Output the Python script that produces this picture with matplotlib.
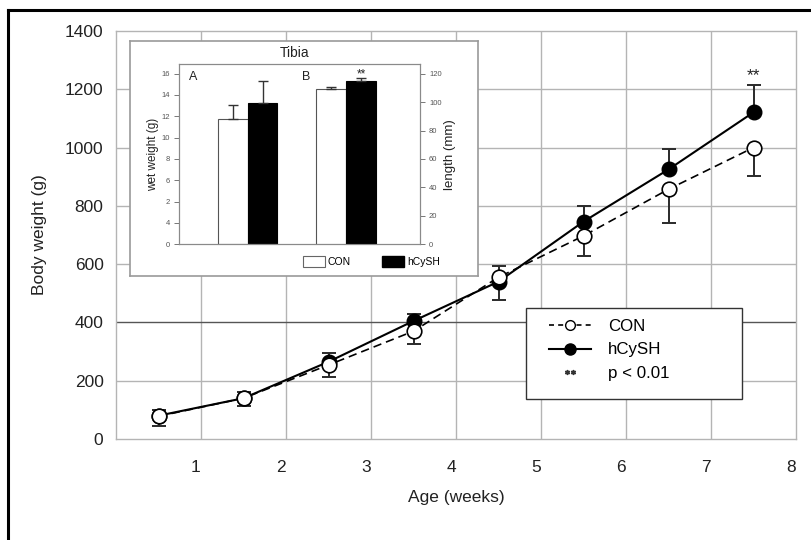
import matplotlib
matplotlib.use("Agg")
import matplotlib.pyplot as plt
from matplotlib.lines import Line2D
from matplotlib.patches import Patch, Rectangle
import matplotlib.transforms as mtransforms

plt.rcParams['font.family'] = ['Liberation Sans', 'DejaVu Sans']

# ---------------- data ----------------
weeks = [0.5, 1.5, 2.5, 3.5, 4.5, 5.5, 6.5, 7.5]
con = [78, 140, 254, 370, 555, 697, 857, 1000]
con_err_lo = [33, 27, 40, 44, 0, 68, 117, 97]
con_err_hi = [0, 0, 0, 0, 40, 0, 0, 0]
hcysh = [80, 140, 265, 405, 540, 746, 925, 1121]
hcysh_err_hi = [20, 20, 31, 23, 0, 55, 69, 94]
hcysh_err_lo = [0, 0, 0, 0, 63, 0, 0, 0]
x_ticks = [1, 2, 3, 4, 5, 6, 7, 8]
y_ticks = [0, 200, 400, 600, 800, 1000, 1200, 1400]

# inset (tibia)
tibia_groups = ['A', 'B']
tibia_con = [11.76, 109.0]        # wet weight (g), length (mm)
tibia_con_err = [1.29, 1.8]
tibia_hcysh = [13.27, 114.8]
tibia_hcysh_err = [2.03, 2.4]
left_tick_vals = [0, 2, 4, 6, 8, 10, 12, 14, 16]
left_tick_labels = ['0', '4', '2', '6', '8', '10', '12', '14', '16']
right_ticks = [0, 20, 40, 60, 80, 100, 120]

W, H = 811, 540
fig = plt.figure(figsize=(W / 100, H / 100), dpi=100)

def fx(px):
    return px / W

def fy(py):
    return 1 - py / H

# ---------------- main axes ----------------
ax = fig.add_axes([fx(116), fy(439), fx(796) - fx(116), fy(31) - fy(439)])
ax.set_xlim(0, 8)
ax.set_ylim(0, 1400)
grid_c = '#b4b4b4'
for s in ax.spines.values():
    s.set_color(grid_c)
    s.set_linewidth(1.0)
for xv in x_ticks[:-1]:
    ax.axvline(xv, color=grid_c, lw=1.0, zorder=0)
for yv in y_ticks[1:-1]:
    ax.axhline(yv, color='#555555' if yv == 400 else grid_c, lw=1.0, zorder=0)

ax.set_xticks(x_ticks)
ax.set_xticklabels([str(v) for v in x_ticks])
ax.set_yticks(y_ticks)
ax.set_yticklabels([str(v) for v in y_ticks])
ax.tick_params(axis='x', length=0, pad=15, labelsize=12.5, colors='#222222')
ax.tick_params(axis='y', length=0, pad=9, labelsize=12.5, colors='#222222')
off = mtransforms.ScaledTranslation(-5 / 100, 0, fig.dpi_scale_trans)
for lab in ax.get_xticklabels():
    lab.set_transform(lab.get_transform() + off)
ax.set_xlabel('Age (weeks)', fontsize=12.5, labelpad=11, color='#222222')
ax.set_ylabel('Body weight (g)', fontsize=12.5, labelpad=13, color='#222222')

ax.errorbar(weeks, hcysh, yerr=[hcysh_err_lo, hcysh_err_hi], fmt='none',
            ecolor='#2a2a2a', elinewidth=1.4, capsize=5, capthick=1.4, zorder=3)
ax.errorbar(weeks, con, yerr=[con_err_lo, con_err_hi], fmt='none',
            ecolor='#2a2a2a', elinewidth=1.4, capsize=5, capthick=1.4, zorder=3)
ax.plot(weeks, hcysh, '-', color='black', lw=1.5, marker='o', ms=10.5,
        mfc='black', mec='black', zorder=4)
ax.plot(weeks, con, '--', color='black', lw=1.2, dashes=(5, 3), marker='o', ms=10.5,
        mfc='white', mec='black', mew=1.2, zorder=5)
ax.text(weeks[-1], hcysh[-1] + hcysh_err_hi[-1] + 33, '**', ha='center', va='center',
        fontsize=12.5, color='#222222')

# legend: box drawn as a rectangle, entries as a frameless legend
fig.add_artist(Rectangle((fx(526), fy(399)), fx(742) - fx(526), fy(308) - fy(399),
                         transform=fig.transFigure, facecolor='white',
                         edgecolor='#333333', lw=1.0, zorder=9))
handles = [
    Line2D([], [], color='black', ls='--', dashes=(3, 2.5), lw=1.2, marker='o', ms=7,
           mfc='white', mec='black'),
    Line2D([], [], color='black', ls='-', lw=1.5, marker='o', ms=8, mfc='black', mec='black'),
    Line2D([], [], ls='none', marker='$**$', ms=7, color='#333333'),
]
leg = fig.legend(handles, ['CON', 'hCySH', 'p < 0.01'],
                 loc='upper left', bbox_to_anchor=(fx(549), fy(319)),
                 bbox_transform=fig.transFigure, borderaxespad=0, borderpad=0,
                 fontsize=12.2, handlelength=2.5, handletextpad=1.0,
                 labelspacing=0.5, frameon=False)
leg.set_zorder(10)

# ---------------- inset ----------------
frame = fig.add_axes([fx(130), fy(275.5), fx(478) - fx(130), fy(40.6) - fy(275.5)])
frame.set_xticks([])
frame.set_yticks([])
for s in frame.spines.values():
    s.set_color('#9a9a9a')
    s.set_linewidth(1.2)
frame.set_facecolor('white')
frame.set_zorder(20)

ia = fig.add_axes([fx(179), fy(244.3), fx(420) - fx(179), fy(64) - fy(244.3)])
ia.set_zorder(21)
ia.set_xlim(0, 8.1)
ia.set_ylim(0, 16.9)
ia2 = ia.twinx()
ia2.set_zorder(22)
ia2.set_ylim(0, 16.9 * 7.5)
ia2.patch.set_visible(False)

centers = [2.31, 5.62]
bw = 1.0
# group A on left axis
ia.bar(centers[0] - bw / 2, tibia_con[0], bw, color='white', edgecolor='#555555', lw=0.8)
ia.bar(centers[0] + bw / 2, tibia_hcysh[0], bw, color='black', edgecolor='black', lw=0.8)
ia.errorbar([centers[0] - bw / 2], [tibia_con[0]], yerr=[[0], [tibia_con_err[0]]], fmt='none',
            ecolor='#333333', elinewidth=1.0, capsize=3.5, capthick=1.0)
ia.errorbar([centers[0] + bw / 2], [tibia_hcysh[0]], yerr=[[0], [tibia_hcysh_err[0]]], fmt='none',
            ecolor='#333333', elinewidth=1.0, capsize=3.5, capthick=1.0)
# group B on right axis
ia2.bar(centers[1] - bw / 2, tibia_con[1], bw, color='white', edgecolor='#555555', lw=0.8)
ia2.bar(centers[1] + bw / 2, tibia_hcysh[1], bw, color='black', edgecolor='black', lw=0.8)
ia2.errorbar([centers[1] - bw / 2], [tibia_con[1]], yerr=[[0], [tibia_con_err[1]]], fmt='none',
             ecolor='#333333', elinewidth=1.0, capsize=3.5, capthick=1.0)
ia2.errorbar([centers[1] + bw / 2], [tibia_hcysh[1]], yerr=[[0], [tibia_hcysh_err[1]]], fmt='none',
             ecolor='#333333', elinewidth=1.0, capsize=3.5, capthick=1.0)
ia2.text(centers[1] + bw / 2, tibia_hcysh[1] + tibia_hcysh_err[1] + 2.5, '**', ha='center',
         va='center', fontsize=8.5, color='#222222')

for a in (ia, ia2):
    for s in a.spines.values():
        s.set_color('#8a8a8a')
        s.set_linewidth(0.8)
ia.set_xticks([])
ia.set_yticks(left_tick_vals)
ia.set_yticklabels(left_tick_labels)
ia.tick_params(axis='y', length=3.5, width=0.7, color='#777777', labelsize=5.5,
               labelcolor='#555555', pad=3)
ia2.set_yticks(right_ticks)
ia2.set_yticklabels([str(v) for v in right_ticks])
ia2.tick_params(axis='y', length=3.5, width=0.7, color='#777777', labelsize=5.5,
                labelcolor='#555555', pad=3)
ia.set_ylabel('wet weight (g)', fontsize=8.5, labelpad=2, color='#222222')
ia2.set_ylabel('length (mm)', fontsize=9.5, labelpad=2, color='#222222')
ia.text(0.04, 0.93, tibia_groups[0], transform=ia.transAxes, fontsize=9, va='center',
        ha='left', color='#222222')
ia.text(0.51, 0.93, tibia_groups[1], transform=ia.transAxes, fontsize=9, va='center',
        ha='left', color='#222222')
fig.text(fx(295), fy(53), 'Tibia', fontsize=10, ha='center', va='center', color='#222222',
         zorder=30)

ileg = ia.legend([Patch(facecolor='white', edgecolor='#666666', lw=0.8),
                  Patch(facecolor='black', edgecolor='black')],
                 ['CON', 'hCySH'], ncol=2, frameon=False, fontsize=7.5,
                 loc='center left', bbox_to_anchor=(fx(303), fy(261.5)),
                 bbox_transform=fig.transFigure, borderpad=0, borderaxespad=0,
                 handlelength=2.1, handleheight=1.3, handletextpad=0.3,
                 columnspacing=3.0)
ileg.set_zorder(30)

# figure border lines (top and left)
fig.add_artist(Line2D([fx(8), 1.0], [fy(10), fy(10)], color='black', lw=2.2,
                      transform=fig.transFigure))
fig.add_artist(Line2D([fx(8), fx(8)], [fy(10), 0.0], color='black', lw=2.2,
                      transform=fig.transFigure))

fig.savefig('out.png', dpi=100, facecolor='white')
